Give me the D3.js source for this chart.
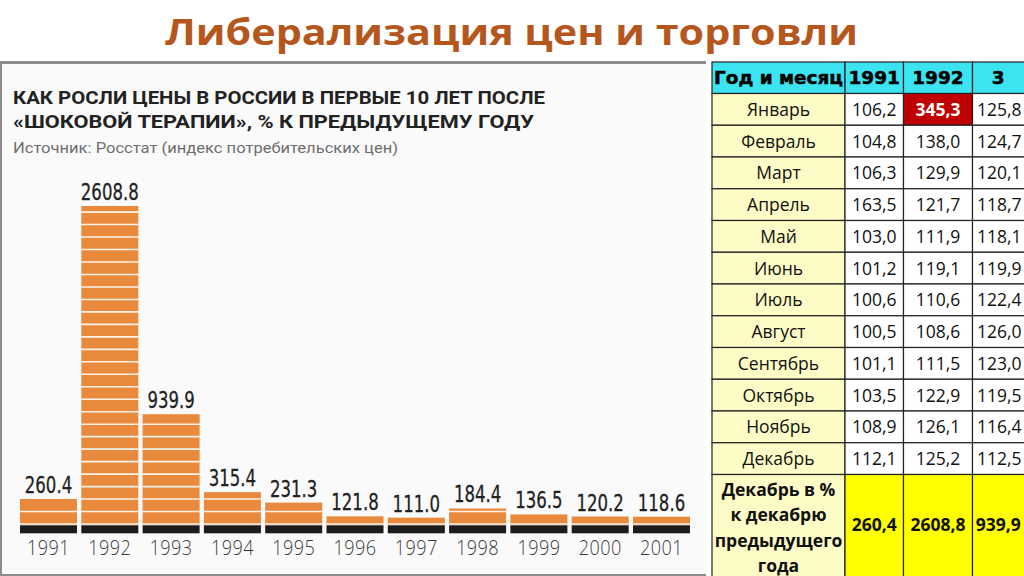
<!DOCTYPE html>
<html><head><meta charset="utf-8">
<script src="https://cdn.jsdelivr.net/npm/d3@7"></script>
<style>body{margin:0;background:#fff;} svg{display:block;}</style>
</head><body><svg id="c" width="1024" height="576"></svg>
<script>
// ---- data ----
const years = ["1991","1992","1993","1994","1995","1996","1997","1998","1999","2000","2001"];
const cpi = [260.4, 2608.8, 939.9, 315.4, 231.3, 121.8, 111.0, 184.4, 136.5, 120.2, 118.6];
const months = ["Январь","Февраль","Март","Апрель","Май","Июнь","Июль","Август","Сентябрь","Октябрь","Ноябрь","Декабрь"];
const tableHeaders = ["Год и месяц","1991","1992","3"];
const m1991 = [106.2,104.8,106.3,163.5,103.0,101.2,100.6,100.5,101.1,103.5,108.9,112.1];
const m1992 = [345.3,138.0,129.9,121.7,111.9,119.1,110.6,108.6,111.5,122.9,126.1,125.2];
const m1993 = [125.8,124.7,120.1,118.7,118.1,119.9,122.4,126.0,123.0,119.5,116.4,112.5];
const decToDec = [260.4,2608.8,939.9];
const lastRowLabel = ["Декабрь в %","к декабрю","предыдущего","года"];
const titleText = "Либерализация цен и торговли";
const chartTitle = ["КАК РОСЛИ ЦЕНЫ В РОССИИ В ПЕРВЫЕ 10 ЛЕТ ПОСЛЕ","«ШОКОВОЙ ТЕРАПИИ», % К ПРЕДЫДУЩЕМУ ГОДУ"];
const sourceText = "Источник: Росстат (индекс потребительских цен)";

const svg = d3.select("#c");
const dv = "'DejaVu Sans',sans-serif";

// ---- page title ----
svg.append("text").attr("x",165).attr("y",45)
  .attr("textLength",693).attr("lengthAdjust","spacingAndGlyphs")
  .style("font-family","'Open Sans','DejaVu Sans',sans-serif").style("font-weight",700)
  .style("font-size","36px").style("fill","#b5571c").text(titleText);

// ---- left panel ----
svg.append("rect").attr("x",1).attr("y",63).attr("width",704).attr("height",511).attr("fill","#fafafa");
svg.append("line").attr("x1",0).attr("x2",706).attr("y1",62.5).attr("y2",62.5).attr("stroke","#8c8c8c").attr("stroke-width",3);
svg.append("line").attr("x1",1).attr("x2",1).attr("y1",62).attr("y2",576).attr("stroke","#8c8c8c").attr("stroke-width",2);
svg.append("line").attr("x1",0).attr("x2",706).attr("y1",575).attr("y2",575).attr("stroke","#8c8c8c").attr("stroke-width",2);

svg.selectAll("text.ct").data(chartTitle).join("text").attr("class","ct")
  .attr("x",13).attr("y",(d,i)=>104+i*24)
  .attr("textLength",(d,i)=>i===0?532:521).attr("lengthAdjust","spacingAndGlyphs")
  .style("font-family","'Roboto','Open Sans',sans-serif").style("font-weight",700)
  .style("font-size","18px").style("fill","#222").text(d=>d);
svg.append("text").attr("x",13).attr("y",153)
  .attr("textLength",385).attr("lengthAdjust","spacingAndGlyphs")
  .style("font-family","'Roboto','Open Sans',sans-serif").style("font-size","15.5px")
  .style("fill","#6e6e6e").text(sourceText);

// ---- bars ----
const x = d3.scaleBand().domain(years).range([20,690]).paddingInner(0.07).paddingOuter(0);
const y = d3.scaleLinear().domain([0,2608.8]).range([531.5,206]);
const bars = years.map((yr,i)=>({yr, v:cpi[i]}));

const g = svg.append("g");
g.selectAll("rect.bar").data(bars).join("rect").attr("class","bar")
  .attr("x",d=>x(d.yr)).attr("width",x.bandwidth())
  .attr("y",d=>y(d.v)).attr("height",d=>525-y(d.v))
  .attr("fill","#e8893c");
bars.forEach(d=>{
  const s = d3.range(60, d.v-5, 100);
  g.selectAll(null).data(s).join("line")
    .attr("x1",x(d.yr)).attr("x2",x(d.yr)+x.bandwidth())
    .attr("y1",v=>y(v)).attr("y2",v=>y(v))
    .attr("stroke","#fdf3e8").attr("stroke-width",1.6);
});
g.selectAll("rect.base").data(bars).join("rect").attr("class","base")
  .attr("x",d=>x(d.yr)).attr("width",x.bandwidth())
  .attr("y",525.3).attr("height",8).attr("fill","#1c1c1c");

g.selectAll("text.val").data(bars).join("text").attr("class","val")
  .attr("transform",d=>`translate(${x(d.yr)+x.bandwidth()/2},${y(d.v)-6}) scale(0.72,1)`)
  .attr("text-anchor","middle")
  .style("font-family",dv).style("font-size","23px").style("fill","#222")
  .style("stroke","#222").style("stroke-width","0.3px")
  .text(d=>d3.format(".1f")(d.v));

const xAxis = d3.axisBottom(x).tickSize(0).tickPadding(0);
const ax = svg.append("g").attr("transform","translate(0,537)").call(xAxis);
ax.select(".domain").remove();
ax.selectAll(".tick text").attr("dy","0").attr("y",0)
  .attr("transform","translate(0,18) scale(0.86,1)")
  .style("font-family","'Open Sans',sans-serif").style("font-weight",300).style("font-size","21px").style("fill","#3a3a3a")
  .style("letter-spacing","0.5px");

// ---- table ----
const colX = [712, 845, 903.5, 972.5, 1030];
const headTop = 62, headBot = 93.5;
const r = d3.scaleBand().domain(months).range([headBot, 474.5]);
const lastBot = 577;
const tg = svg.append("g");
const cellFont = "'Open Sans','Noto Sans',sans-serif";
const fs = "17.5px";

tableHeaders.forEach((h,j)=>{
  tg.append("rect").attr("x",colX[j]).attr("y",headTop).attr("width",colX[j+1]-colX[j]).attr("height",headBot-headTop)
    .attr("fill","#3be4f0").attr("stroke","#222").attr("stroke-width",1.2);
  const t = tg.append("text").attr("x",(colX[j]+colX[j+1])/2 - (j===3?3:0)).attr("y",(headTop+headBot)/2+6.5)
    .attr("text-anchor","middle")
    .style("font-family",dv).style("font-weight",700)
    .style("font-size","18.5px").style("fill","#000").style("stroke","#000").style("stroke-width","0.5px").text(h);
  if (j===0) t.attr("textLength",129).attr("lengthAdjust","spacingAndGlyphs");
});

const cols = [m1991, m1992, m1993];
const fmt = v => v.toFixed(1).replace(".", ",");
months.forEach((m,i)=>{
  const top = r(m), h = r.bandwidth();
  tg.append("rect").attr("x",colX[0]).attr("y",top).attr("width",colX[1]-colX[0]).attr("height",h)
    .attr("fill","#fdfbc6").attr("stroke","#222").attr("stroke-width",1.2);
  tg.append("text").attr("x",(colX[0]+colX[1])/2).attr("y",top+h/2+6.5).attr("text-anchor","middle")
    .style("font-family",cellFont).style("font-size",fs).style("fill","#111").text(m);
  cols.forEach((c,j)=>{
    const red = (i===0 && j===1);
    tg.append("rect").attr("x",colX[j+1]).attr("y",top).attr("width",colX[j+2]-colX[j+1]).attr("height",h)
      .attr("fill",red?"#c00000":"#ffffff").attr("stroke","#222").attr("stroke-width",1.2);
    tg.append("text").attr("x",(colX[j+1]+Math.min(colX[j+2],1024))/2 + (j===2?1:0)).attr("y",top+h/2+6.5).attr("text-anchor","middle")
      .style("font-family",cellFont).style("font-size",fs)
      .style("font-weight",red?700:400).style("fill",red?"#fff":"#111").text(fmt(c[i]));
  });
});

const lastTop = 474.5;
tg.append("rect").attr("x",colX[0]).attr("y",lastTop).attr("width",colX[1]-colX[0]).attr("height",lastBot-lastTop)
  .attr("fill","#fdfbc6").attr("stroke","#222").attr("stroke-width",1.2);
tg.selectAll("text.ll").data(lastRowLabel).join("text").attr("class","ll")
  .attr("x",(colX[0]+colX[1])/2).attr("y",(d,i)=>496+i*25.3).attr("text-anchor","middle")
  .style("font-family",cellFont).style("font-weight",700).style("font-size",fs).style("fill","#111").text(d=>d);
decToDec.forEach((v,j)=>{
  tg.append("rect").attr("x",colX[j+1]).attr("y",lastTop).attr("width",colX[j+2]-colX[j+1]).attr("height",lastBot-lastTop)
    .attr("fill","#ffff00").attr("stroke","#222").attr("stroke-width",1.2);
  tg.append("text").attr("x",(colX[j+1]+Math.min(colX[j+2],1024))/2).attr("y",531).attr("text-anchor","middle")
    .style("font-family",cellFont).style("font-weight",700).style("font-size",fs).style("fill","#111").text(fmt(v));
});
</script></body></html>
